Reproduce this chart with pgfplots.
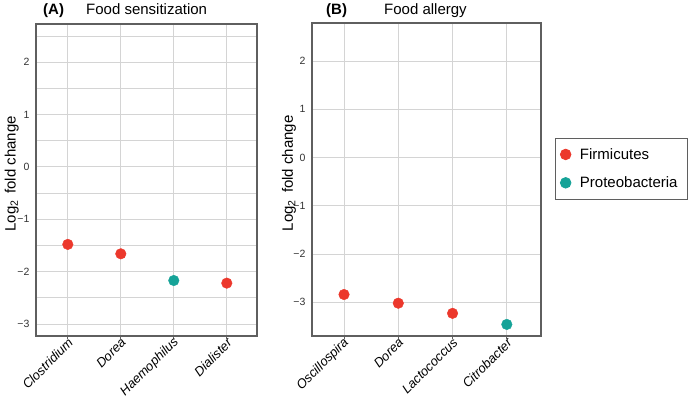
\documentclass[border=0pt]{standalone}
\usepackage{pgfplots}
\pgfplotsset{compat=1.18}
\usepackage{fontspec}
\setmainfont{Liberation Sans}

\definecolor{firm}{RGB}{236,56,44}
\definecolor{prot}{RGB}{22,163,152}
\definecolor{framec}{RGB}{95,95,95}
\definecolor{gridc}{RGB}{212,212,212}

\pgfplotsset{
  panel/.style={
    scale only axis,
    clip=false,
    xtick={0,1,2,3},
    ytick={-3,-2,-1,0,1,2},
    yticklabels={−3,−2,−1,0,1,2},
    xtick pos=bottom, ytick pos=left,
    xmajorgrids, ymajorgrids,
    major grid style={gridc, line width=0.9pt},
    minor grid style={gridc, line width=0.9pt},
    axis line style={framec, line width=1.3pt},
    tick align=outside,
    major tick length=3pt,
    minor tick length=0pt,
    xtick style={framec, line width=0.8pt},
    ytick style={draw=none},
    x tick label style={rotate=45, anchor=east, xshift=2pt, yshift=-3pt,
      font=\fontsize{13}{13}\selectfont\itshape, inner sep=1pt},
    y tick label style={font=\fontsize{10.5}{10.5}\selectfont, text=black!80},
    ylabel={Log\textsubscript{2}\, fold change},
  },
  ylab/.style={every axis y label/.style={at={(axis description cs:#1,0.52)},
    rotate=90, anchor=center, font=\fontsize{15}{15}\selectfont}},
  dot/.style={only marks, mark=*, mark size=5.3pt, #1, mark options={fill=#1, draw=#1}},
}

\begin{document}
\begin{tikzpicture}[x=1pt,y=1pt]

% (A) food sensitization
\begin{axis}[panel, ylab=-0.11,
  at={(36pt,68pt)}, anchor=south west,
  width=221pt, height=312pt,
  xmin=-0.6, xmax=3.57,
  ymin=-3.23, ymax=2.73,
  minor ytick={-2.5,-1.5,-0.5,0.5,1.5,2.5},
  yminorgrids,
  xticklabels={Clostridium,Dorea,Haemophilus,Dialister},
]
\addplot[dot=firm] coordinates {(0,-1.48) (1,-1.66) (3,-2.22)};
\addplot[dot=prot] coordinates {(2,-2.17)};
\end{axis}

% (B) food allergy
\begin{axis}[panel, ylab=-0.1,
  at={(312pt,68pt)}, anchor=south west,
  width=229pt, height=313pt,
  xmin=-0.59, xmax=3.63,
  ymin=-3.7, ymax=2.79,
  xticklabels={Oscillospira,Dorea,Lactococcus,Citrobacter},
  legend style={at={(rel axis cs:1.061,0.633)}, anchor=north west,
    draw=framec, line width=0.8pt, font=\fontsize{15}{15}\selectfont,
    row sep=14pt, inner xsep=5pt, inner ysep=9pt,
    nodes={inner xsep=5pt, inner ysep=1pt},
    /tikz/every odd column/.append style={column sep=4pt}},
  legend cell align=left,
]
\addplot[dot=firm] coordinates {(0,-2.84) (1,-3.02) (2,-3.23)};
\addlegendentry{Firmicutes}
\addplot[dot=prot] coordinates {(3,-3.46)};
\addlegendentry{Proteobacteria}
\end{axis}

\node[anchor=base west, inner sep=0pt, font=\fontsize{15}{15}\selectfont\bfseries] at (43,389) {(A)};
\node[anchor=base west, inner sep=0pt, font=\fontsize{15}{15}\selectfont] at (86,389) {Food sensitization};
\node[anchor=base west, inner sep=0pt, font=\fontsize{15}{15}\selectfont\bfseries] at (326,389) {(B)};
\node[anchor=base west, inner sep=0pt, font=\fontsize{15}{15}\selectfont] at (384,389) {Food allergy};

\pgfresetboundingbox
\path[use as bounding box] (0,0) rectangle (690,404);
\end{tikzpicture}
\end{document}
